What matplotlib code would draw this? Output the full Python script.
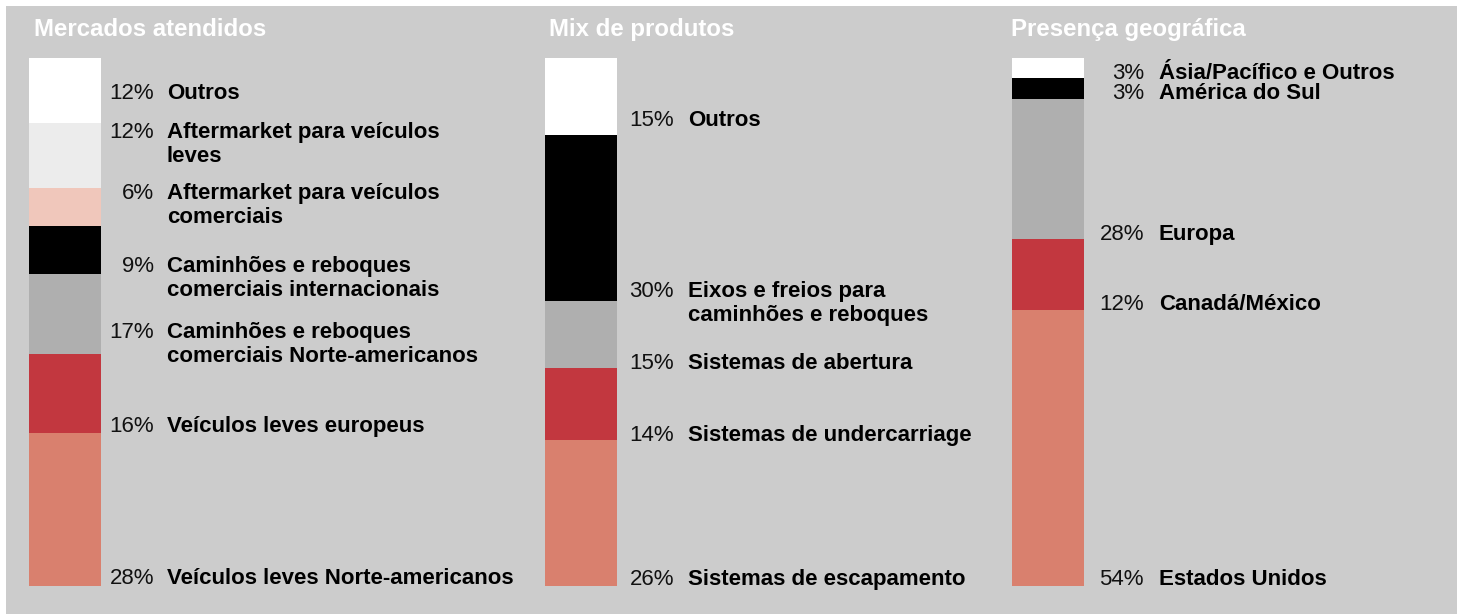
import matplotlib
matplotlib.use("Agg")
import matplotlib.pyplot as plt
from matplotlib.patches import Rectangle

plt.rcParams['font.family'] = ['Liberation Sans', 'DejaVu Sans']

# ---------------- data (top segment first) ----------------
titles = ["Mercados atendidos", "Mix de produtos", "Presença geográfica"]

mercados_pct = ["12%", "12%", "6%", "9%", "17%", "16%", "28%"]
mercados_labels = [["Outros"],
                   ["Aftermarket para veículos", "leves"],
                   ["Aftermarket para veículos", "comerciais"],
                   ["Caminhões e reboques", "comerciais internacionais"],
                   ["Caminhões e reboques", "comerciais Norte-americanos"],
                   ["Veículos leves europeus"],
                   ["Veículos leves Norte-americanos"]]
mercados_heights = [12.3, 12.3, 7.2, 9.1, 15.2, 15.0, 28.9]

produtos_pct = ["15%", "30%", "15%", "14%", "26%"]
produtos_labels = [["Outros"],
                   ["Eixos e freios para", "caminhões e reboques"],
                   ["Sistemas de abertura"],
                   ["Sistemas de undercarriage"],
                   ["Sistemas de escapamento"]]
produtos_heights = [14.6, 31.4, 12.7, 13.6, 27.7]

geo_pct = ["3%", "3%", "28%", "12%", "54%"]
geo_labels = [["Ásia/Pacífico e Outros"],
              ["América do Sul"],
              ["Europa"],
              ["Canadá/México"],
              ["Estados Unidos"]]
geo_heights = [3.8, 4.0, 26.5, 13.4, 52.3]

# ---------------- style / layout ----------------
C_WHITE, C_LGRAY, C_PINK = "#ffffff", "#ececec", "#f0c7bb"
C_BLACK, C_GRAY, C_RED, C_SALMON = "#000000", "#afafaf", "#c2373f", "#d9806e"
mercados_colors = [C_WHITE, C_LGRAY, C_PINK, C_BLACK, C_GRAY, C_RED, C_SALMON]
produtos_colors = [C_WHITE, C_BLACK, C_GRAY, C_RED, C_SALMON]
geo_colors = [C_WHITE, C_BLACK, C_GRAY, C_RED, C_SALMON]

# label baselines (in bar units, 0 = bar bottom, 100 = bar top)
mercados_label_y = [92.2, 84.8, 73.3, 59.5, 47.0, 29.2, 0.4]
produtos_label_y = [87.1, 54.7, 41.1, 27.5, 0.2]
geo_label_y = [96.0, 92.2, 65.5, 52.3, 0.2]

W, H = 1460, 614
bar_left_px = [29, 545, 1012]
bar_w_px = 72
bar_top_px, bar_bot_px = 58, 586
pct_dx_px = [53, 57, 60]
lab_dx_px = [66, 71, 75]
title_x_px = [34, 549, 1011]
title_base_px = 36
line_step = 24 / ((bar_bot_px - bar_top_px) / 100.0)
FS = 16

panels = [
    (mercados_heights, mercados_colors, mercados_pct, mercados_labels, mercados_label_y),
    (produtos_heights, produtos_colors, produtos_pct, produtos_labels, produtos_label_y),
    (geo_heights, geo_colors, geo_pct, geo_labels, geo_label_y),
]

fig = plt.figure(figsize=(W / 100, H / 100), dpi=100)
fig.patch.set_facecolor("white")
fig.add_artist(Rectangle((6 / W, 0), (1457 - 6) / W, (H - 6) / H,
                         transform=fig.transFigure, facecolor="#cccccc",
                         edgecolor="none", zorder=0))

for i, (heights, colors, pcts, labels, label_y) in enumerate(panels):
    ax = fig.add_axes([bar_left_px[i] / W, (H - bar_bot_px) / H,
                       bar_w_px / W, (bar_bot_px - bar_top_px) / H])
    ax.set_xlim(-0.5, 0.5)
    ax.set_ylim(0, 100)
    ax.axis("off")
    # stack from the bottom up
    bottom = 0.0
    for h, c in zip(reversed(heights), reversed(colors)):
        ax.bar(0, h, width=1.0, bottom=bottom, color=c, linewidth=0)
        bottom += h
    tr = ax.get_yaxis_transform()
    xp = 1 + pct_dx_px[i] / bar_w_px
    xl = 1 + lab_dx_px[i] / bar_w_px
    for p, lines, y in zip(pcts, labels, label_y):
        ax.text(xp, y, p, transform=tr, ha="right", va="baseline",
                fontsize=FS, color="#111111", clip_on=False)
        for k, line in enumerate(lines):
            ax.text(xl, y - k * line_step, line, transform=tr, ha="left",
                    va="baseline", fontsize=FS, fontweight="bold",
                    color="#000000", clip_on=False)
    fig.text(title_x_px[i] / W, 1 - title_base_px / H, titles[i],
             ha="left", va="baseline", fontsize=17.3, fontweight="bold",
             color="white")

fig.savefig("out.png", dpi=100, facecolor=fig.get_facecolor())
